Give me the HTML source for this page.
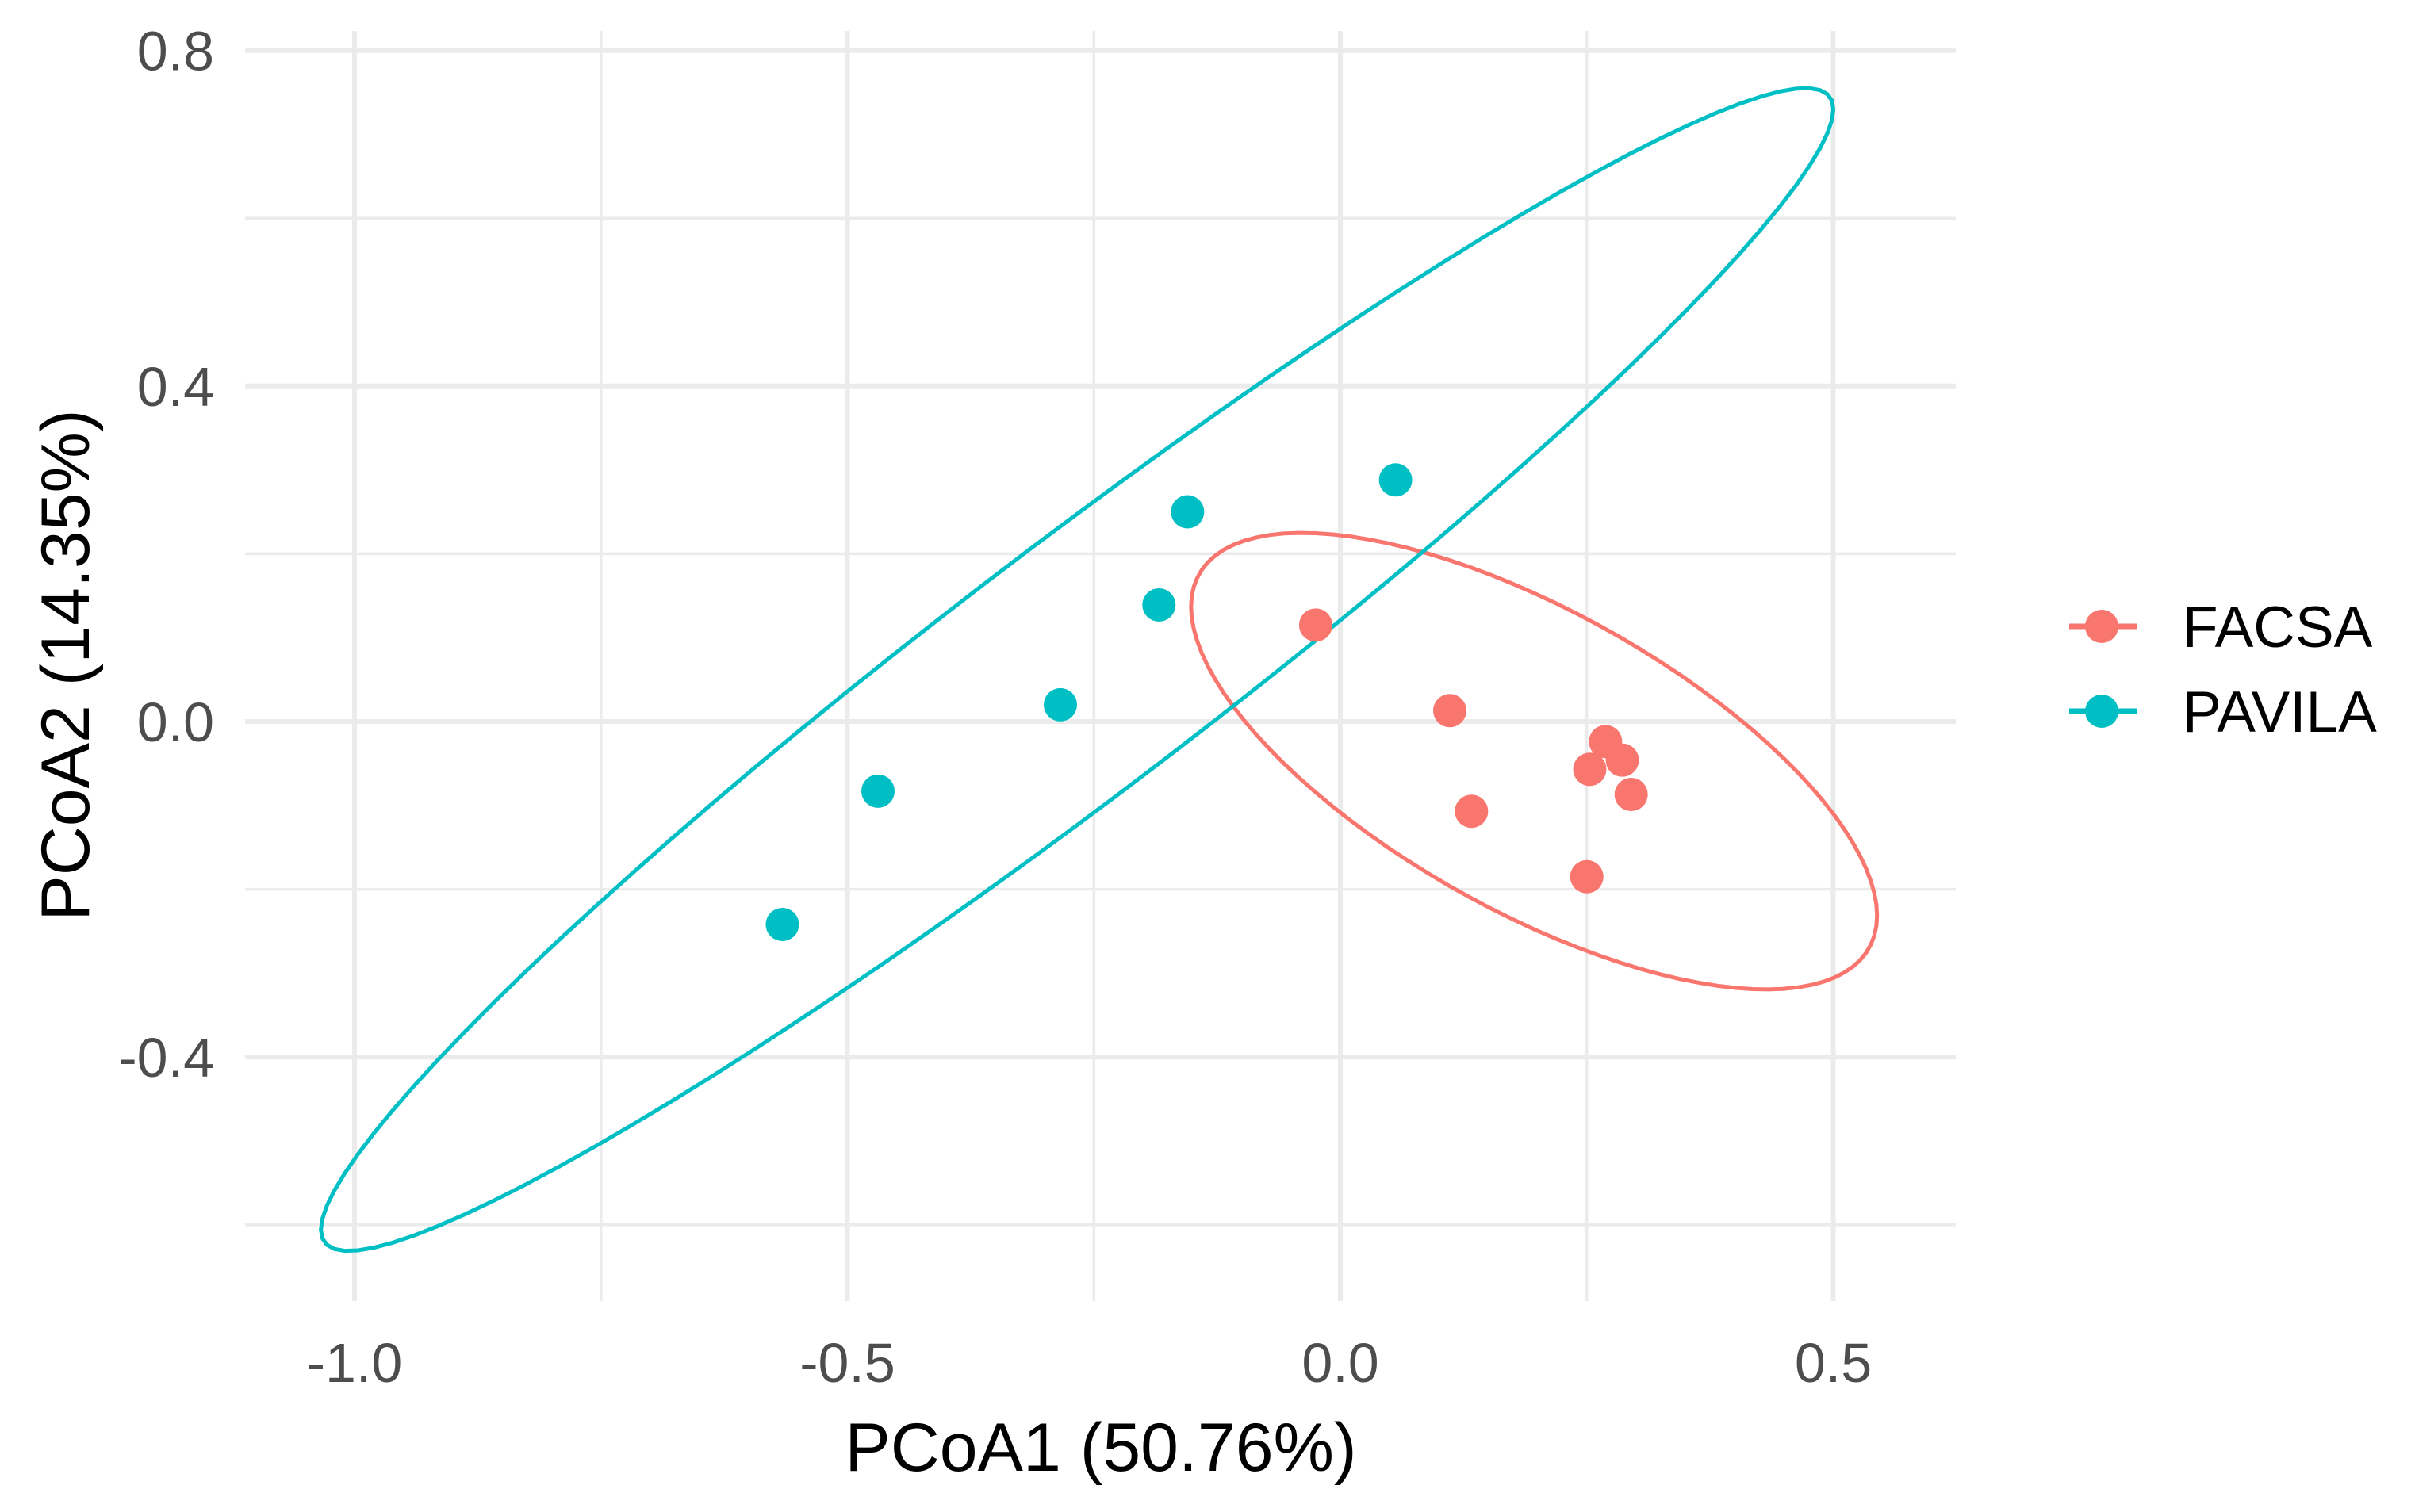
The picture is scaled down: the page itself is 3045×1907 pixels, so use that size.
<!DOCTYPE html>
<html><head><meta charset="utf-8">
<style>
html,body{margin:0;padding:0;background:#fff;}
svg{display:block;font-family:"Liberation Sans",Arial,sans-serif;}
</style></head>
<body>
<svg id="chart" width="3045" height="1907" viewBox="0 0 3045 1907" xmlns="http://www.w3.org/2000/svg">
<g id="grid"></g>
<g id="ellipses"></g>
<g id="points"></g>
<g id="axes"></g>
<text x="1388" y="1855" font-size="86" text-anchor="middle" fill="#000">PCoA1 (50.76%)</text>
<text transform="translate(112,839) rotate(-90)" font-size="86" text-anchor="middle" fill="#000">PCoA2 (14.35%)</text>
<g>
  <g>
    <line x1="2609" y1="790" x2="2695" y2="790" stroke="#F8766D" stroke-width="7"/>
    <circle cx="2650" cy="790" r="21" fill="#F8766D"/>
    <text x="2752" y="816" font-size="73" fill="#000">FACSA</text>
  </g>
  <g>
    <line x1="2609" y1="897" x2="2695" y2="897" stroke="#00BFC4" stroke-width="7"/>
    <circle cx="2650" cy="897" r="21" fill="#00BFC4"/>
    <text x="2752" y="923" font-size="73" fill="#000">PAVILA</text>
  </g>
</g>
</svg>
<script>
const facsaX = [-0.025, 0.111, 0.133, 0.250, 0.253, 0.269, 0.286, 0.295];
const facsaY = [0.115, 0.013, -0.107, -0.185, -0.057, -0.024, -0.046, -0.087];
const pavilaX = [-0.566, -0.469, -0.284, -0.184, -0.155, 0.056];
const pavilaY = [-0.242, -0.083, 0.020, 0.139, 0.250, 0.288];
const xTicks = [-1.0, -0.5, 0.0, 0.5];
const xTickLabels = ["-1.0", "-0.5", "0.0", "0.5"];
const yTicks = [0.8, 0.4, 0.0, -0.4];
const yTickLabels = ["0.8", "0.4", "0.0", "-0.4"];
const xMinor = [-0.75, -0.25, 0.25];
const yMinor = [0.6, 0.2, -0.2, -0.6];

const NS = "http://www.w3.org/2000/svg";
const L = 309, R = 2466, T = 39, B = 1641;
function sx(v){ return 1690 + 1243 * v; }
function sy(v){ return 910 - 1058 * v; }
function mk(tag, attrs, parent){ const e = document.createElementNS(NS, tag); for (const k in attrs) e.setAttribute(k, attrs[k]); parent.appendChild(e); return e; }

const grid = document.getElementById('grid');
xMinor.forEach(v => { const l = mk('line', {x1: sx(v), x2: sx(v), y1: T, y2: B, stroke: '#EBEBEB', 'stroke-width': 3.5}, grid);
  
   });
yMinor.forEach(v => { const l = mk('line', {x1: L, x2: R, y1: sy(v), y2: sy(v), stroke: '#EBEBEB', 'stroke-width': 3.5}, grid);
  
   });
xTicks.forEach(v => { const l = mk('line', {x1: sx(v), x2: sx(v), y1: T, y2: B, stroke: '#EBEBEB', 'stroke-width': 6}, grid);
  
   });
yTicks.forEach(v => { const l = mk('line', {x1: L, x2: R, y1: sy(v), y2: sy(v), stroke: '#EBEBEB', 'stroke-width': 6}, grid);
  
   });

const axes = document.getElementById('axes');
xTicks.forEach((v, i) => { const t = mk('text', {x: sx(v), y: 1743, 'font-size': 70, 'text-anchor': 'middle', fill: '#4D4D4D'}, axes);
  t.textContent = xTickLabels[i];
  
   });
yTicks.forEach((v, i) => { const t = mk('text', {x: 270, y: sy(v) + 25, 'font-size': 70, 'text-anchor': 'end', fill: '#4D4D4D'}, axes);
  t.textContent = yTickLabels[i];
  
   });

function ellipsePath(xs, ys){
  const n = xs.length;
  const mx = xs.reduce((a,b)=>a+b,0)/n, my = ys.reduce((a,b)=>a+b,0)/n;
  let sxx=0, syy=0, sxy=0;
  for (let i=0;i<n;i++){ const dx=xs[i]-mx, dy=ys[i]-my; sxx+=dx*dx; syy+=dy*dy; sxy+=dx*dy; }
  sxx/=(n-1); syy/=(n-1); sxy/=(n-1);
  const d = n-1;
  const F = d/2 * (Math.pow(0.05, -2/d) - 1);
  const rad = Math.sqrt(2*F);
  // cholesky
  const a = Math.sqrt(sxx), b = sxy/a, c = Math.sqrt(Math.max(syy - b*b, 1e-12));
  let p = '';
  for (let k=0;k<=100;k++){
    const th = 2*Math.PI*k/100, u = Math.cos(th), w = Math.sin(th);
    const x = mx + rad*(a*u), y = my + rad*(b*u + c*w);
    p += (k? 'L':'M') + sx(x).toFixed(1) + ',' + sy(y).toFixed(1);
  }
  return p + 'Z';
}
const ell = document.getElementById('ellipses');
const e1 = mk('path', {d: ellipsePath(facsaX, facsaY), fill: 'none', stroke: '#F8766D', 'stroke-width': 5}, ell);


const e2 = mk('path', {d: ellipsePath(pavilaX, pavilaY), fill: 'none', stroke: '#00BFC4', 'stroke-width': 5}, ell);



const pts = document.getElementById('points');
facsaX.forEach((v, i) => { const c = mk('circle', {cx: sx(v), cy: sy(facsaY[i]), r: 21, fill: '#F8766D'}, pts);
  
   });
pavilaX.forEach((v, i) => { const c = mk('circle', {cx: sx(v), cy: sy(pavilaY[i]), r: 21, fill: '#00BFC4'}, pts);
  
   });
</script>
</body></html>
